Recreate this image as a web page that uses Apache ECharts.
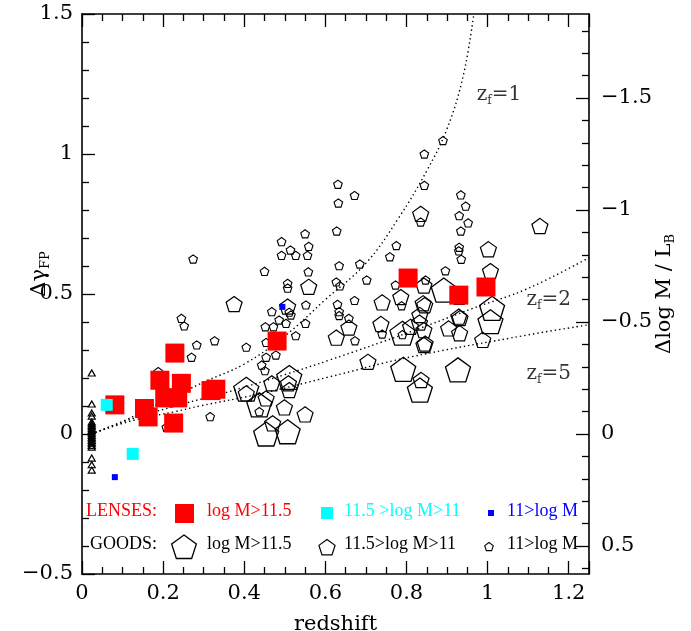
<!DOCTYPE html>
<html><head><meta charset="utf-8">
<script src="https://cdn.jsdelivr.net/npm/echarts@6/dist/echarts.min.js"></script>
<style>html,body{margin:0;padding:0;background:#fff}#c{width:691px;height:631px}</style>
</head><body><div id="c"></div>
<script>
// ---- data (redshift, delta gamma_FP) ----
const comaTriangles = [
  [0.024,0.218],[0.024,0.107],[0.024,0.075],[0.024,0.064],
  [0.024,0.043],[0.024,0.037],[0.024,0.031],[0.024,0.025],[0.024,0.019],[0.024,0.013],
  [0.024,0.007],[0.024,0.001],[0.024,-0.005],[0.024,-0.011],[0.024,-0.017],[0.024,-0.023],
  [0.024,-0.029],[0.024,-0.035],[0.024,-0.041],[0.024,-0.047],
  [0.024,-0.086],[0.024,-0.110],[0.024,-0.129]
];
const lensHigh = [
  [0.081,0.104],[0.154,0.091],[0.163,0.061],[0.192,0.192],[0.204,0.129],[0.236,0.129],
  [0.226,0.039],[0.229,0.289],[0.245,0.181],[0.318,0.155],[0.330,0.160],
  [0.481,0.332],[0.804,0.557],[0.929,0.496],[0.996,0.525]
];
const lensMid = [[0.061,0.104],[0.125,-0.071]];
const lensLow = [[0.081,-0.154],[0.494,0.454]];
const goodsHigh = [
  [0.405,0.160],[0.437,0.104],[0.511,0.202],[0.454,0.000],[0.507,0.008],
  [0.892,0.514],[1.011,0.449],[1.007,0.401],[0.790,0.360],[0.792,0.231],
  [0.833,0.157],[0.927,0.229]
];
const goodsMid = [
  [0.559,0.526],[0.375,0.464],[0.507,0.455],[0.740,0.470],[0.658,0.380],[0.627,0.344],
  [0.737,0.393],[0.786,0.489],[0.835,0.786],[1.129,0.743],[1.002,0.660],[1.007,0.582],
  [0.841,0.467],[0.845,0.460],[0.930,0.490],[0.832,0.398],[0.810,0.383],[0.843,0.371],
  [0.833,0.425],[0.843,0.318],[0.846,0.323],[0.929,0.419],[0.932,0.414],[0.904,0.377],
  [0.931,0.360],[0.988,0.336],[0.705,0.258],[0.836,0.193],[0.468,0.181],[0.499,0.095],
  [0.550,0.070],[0.454,0.127],[0.405,0.145],[0.509,0.181],[0.470,0.038],[0.511,0.157],
  [0.843,0.530]
];
const goodsLow = [
  [0.631,0.892],[0.672,0.852],[0.632,0.825],[0.550,0.715],[0.628,0.725],[0.492,0.687],
  [0.559,0.670],[0.514,0.657],[0.492,0.638],[0.527,0.638],[0.556,0.638],[0.450,0.581],
  [0.558,0.579],[0.634,0.601],[0.685,0.607],[0.702,0.550],[0.507,0.538],[0.507,0.521],
  [0.627,0.543],[0.636,0.529],[0.672,0.477],[0.552,0.461],[0.630,0.463],[0.634,0.437],
  [0.634,0.423],[0.468,0.437],[0.511,0.435],[0.515,0.425],[0.452,0.383],[0.472,0.383],
  [0.486,0.407],[0.503,0.395],[0.551,0.395],[0.527,0.351],[0.658,0.413],[0.673,0.333],
  [0.740,0.357],[0.759,0.633],[0.775,0.673],[0.773,0.532],[0.405,0.310],[0.454,0.327],
  [0.890,1.048],[0.844,1.000],[0.844,0.888],[0.934,0.854],[0.946,0.814],[0.930,0.780],
  [0.952,0.754],[0.934,0.725],[0.930,0.667],[0.929,0.654],[0.935,0.624],[0.896,0.583],
  [0.847,0.550],[0.835,0.757],[0.327,0.333],[0.478,0.282],[0.454,0.274],[0.443,0.246],
  [0.451,0.226],[0.316,0.062],[0.437,0.080],[0.274,0.625],[0.245,0.413],[0.252,0.386],
  [0.283,0.318],[0.270,0.274],[0.208,0.024],[0.188,0.223],[0.788,0.458],[0.790,0.355]
];
// model tracks for formation redshifts
const trackZf1 = [[0.023,0],[0.1,0.045],[0.2,0.115],[0.3,0.185],[0.4,0.25],[0.5,0.35],[0.6,0.48],[0.7,0.61],[0.78,0.77],[0.85,0.94],[0.9,1.09],[0.94,1.28],[0.966,1.5]];
const trackZf2 = [[0.023,0],[0.125,0.055],[0.25,0.108],[0.35,0.146],[0.5,0.212],[0.61,0.264],[0.8,0.36],[0.966,0.45],[1.1,0.52],[1.25,0.63]];
const trackZf5 = [[0.023,0],[0.125,0.048],[0.23,0.08],[0.29,0.1],[0.437,0.143],[0.61,0.204],[0.8,0.272],[1.1,0.354],[1.25,0.39]];
// right axis: Delta log M/L_B, plotted as its negative so it grows upward
const rightMajor = [-0.5,0,0.5,1,1.5];
const rightMinor = [-0.6,-0.4,-0.3,-0.2,-0.1,0.1,0.2,0.3,0.4,0.6,0.7,0.8,0.9,1.1,1.2,1.3,1.4,1.6,1.7,1.8];

const SERIF = 'DejaVu Serif';
const LSERIF = 'Liberation Serif';
const minus = v => String(v).replace('-', '\u2212');
const negLabel = v => { const n = -v; return n === 0 ? '0' : minus(n); };
const PENT = 'path://M0,-1L0.951,-0.309L0.588,0.809L-0.588,0.809L-0.951,-0.309Z';

function pentPts(cx, cy, r){
  const p=[];
  for(let i=0;i<5;i++){const a=(-90+72*i)*Math.PI/180;p.push([cx+r*Math.cos(a),cy+r*Math.sin(a)]);}
  return p;
}
const rich = {
  z:{fontFamily:SERIF,fontSize:20,color:'#000',lineHeight:24,verticalAlign:'middle'},
  s:{fontFamily:SERIF,fontSize:12,color:'#000',lineHeight:2,verticalAlign:'bottom'}
};
const nameRich = {
  z:{fontFamily:SERIF,fontSize:21,color:'#000',lineHeight:24,verticalAlign:'middle'},
  s:{fontFamily:SERIF,fontSize:13,color:'#000',lineHeight:2,verticalAlign:'bottom'}
};

const GRID = {left:82,right:102,top:14,bottom:57};
const PLOT_W = 691 - GRID.left - GRID.right;
const chart = echarts.init(document.getElementById('c'));
const tickStyle = {color:'#000',width:1.3};
const baseX = {
  type:'value',min:0,max:1.25,interval:0.2,
  axisLine:{show:true,onZero:false,lineStyle:{color:'#000',width:1.6}},
  axisTick:{show:true,inside:true,length:13,lineStyle:tickStyle},
  minorTick:{show:true,splitNumber:4,length:7,lineStyle:tickStyle},
  splitLine:{show:false},minorSplitLine:{show:false}
};
// tick-only axes drawn on the right edge (left-type axis shifted across, ticks pointing into the plot)
const rightTicks = (vals, len) => ({
  type:'value',min:-0.625,max:1.875,position:'left',offset:-PLOT_W,
  axisLine:{show:false},splitLine:{show:false},axisLabel:{show:false},
  axisTick:{show:true,inside:false,length:len,lineStyle:tickStyle,customValues:vals}
});
const lab = (text, x, y, color) => ({type:'text',left:x,top:y-11,style:{text,fill:color,font:'18px "'+LSERIF+'"'}});
const solid = c => ({color:c,opacity:1});
const hollow = w => ({color:'rgba(0,0,0,0)',borderColor:'#000',borderWidth:w,opacity:1});

chart.setOption({
  animation:false,
  backgroundColor:'#fff',
  grid:Object.assign({containLabel:false,outerBoundsMode:'none'},GRID),
  xAxis:[
    Object.assign({},baseX,{position:'bottom',
      axisLabel:{show:true,color:'#000',fontFamily:SERIF,fontSize:21,margin:9,showMaxLabel:false,formatter:v=>minus(v)},
      name:'redshift',nameLocation:'middle',nameGap:40,
      nameTextStyle:{color:'#000',fontFamily:SERIF,fontSize:21}}),
    Object.assign({},baseX,{position:'top',axisLabel:{show:false}})
  ],
  yAxis:[
    {type:'value',min:-0.5,max:1.5,interval:0.5,position:'left',
     axisLine:{show:true,onZero:false,lineStyle:{color:'#000',width:1.6}},
     axisTick:{show:true,inside:true,length:13,lineStyle:tickStyle},
     minorTick:{show:true,splitNumber:5,length:7,lineStyle:tickStyle},
     splitLine:{show:false},minorSplitLine:{show:false},
     axisLabel:{color:'#000',fontFamily:SERIF,fontSize:21,margin:9,formatter:v=>minus(v)},
     name:'{z|\u0394\u03B3}{s|FP}',nameLocation:'middle',nameGap:30,nameRotate:90,nameMoveOverlap:false,
     nameTextStyle:{rich:nameRich,padding:[0,0,0,40]}},
    {type:'value',min:-0.625,max:1.875,position:'right',
     axisLine:{show:true,onZero:false,lineStyle:{color:'#000',width:1.6}},
     axisTick:{show:false},splitLine:{show:false},
     axisLabel:{show:true,color:'#000',fontFamily:SERIF,fontSize:21,margin:12,customValues:rightMajor,formatter:negLabel},
     name:'{z|\u0394log M / L}{s|B}',nameLocation:'middle',nameGap:64,nameRotate:90,nameMoveOverlap:false,
     nameTextStyle:{rich:nameRich}},
    rightTicks(rightMajor,13),
    rightTicks(rightMinor,7)
  ],
  series:[
    {name:'zf1',type:'line',data:trackZf1,smooth:0.4,symbol:'none',lineStyle:{color:'#000',width:1.4,type:[1.4,3],opacity:1},z:1,silent:true},
    {name:'zf2',type:'line',data:trackZf2,smooth:0.4,symbol:'none',lineStyle:{color:'#000',width:1.4,type:[1.4,3],opacity:1},z:1,silent:true},
    {name:'zf5',type:'line',data:trackZf5,smooth:0.4,symbol:'none',lineStyle:{color:'#000',width:1.4,type:[1.4,3],opacity:1},z:1,silent:true},
    {name:'GOODS high',type:'scatter',data:goodsHigh,symbol:PENT,symbolSize:[25,24],itemStyle:hollow(1.3),z:2},
    {name:'GOODS mid',type:'scatter',data:goodsMid,symbol:PENT,symbolSize:[16,15.2],itemStyle:hollow(1.2),z:2},
    {name:'GOODS low',type:'scatter',data:goodsLow,symbol:PENT,symbolSize:[8.6,8.2],itemStyle:hollow(1.1),z:2},
    {name:'Coma',type:'scatter',data:comaTriangles,symbol:'triangle',symbolSize:[7,6],itemStyle:hollow(1.2),z:2},
    {name:'Lens high',type:'scatter',data:lensHigh,symbol:'rect',symbolSize:19,itemStyle:solid('#ff0000'),z:3},
    {name:'Lens mid',type:'scatter',data:lensMid,symbol:'rect',symbolSize:12,itemStyle:solid('#00ffff'),z:4},
    {name:'Lens low',type:'scatter',data:lensLow,symbol:'rect',symbolSize:6,itemStyle:solid('#0000ff'),z:5},
    {name:'labels',type:'scatter',symbolSize:0,silent:true,z:6,
     label:{show:true,position:'right',distance:0,rich:rich},
     data:[
       {value:[0.973,1.21],label:{formatter:'{z|z}{s|f}{z|=1}'}},
       {value:[1.096,0.479],label:{formatter:'{z|z}{s|f}{z|=2}'}},
       {value:[1.096,0.214],label:{formatter:'{z|z}{s|f}{z|=5}'}}
     ]}
  ],
  graphic:[
    lab('LENSES:',86,513,'#ff0000'),
    {type:'rect',shape:{x:175,y:504,width:19,height:19},style:{fill:'#ff0000'}},
    lab('log M>11.5',207,513,'#ff0000'),
    {type:'rect',shape:{x:321,y:507,width:12,height:12},style:{fill:'#00ffff'}},
    lab('11.5 >log M>11',344,513,'#00ffff'),
    {type:'rect',shape:{x:488,y:510,width:6,height:6},style:{fill:'#0000ff'}},
    lab('11>log M',507,513,'#0000ff'),
    lab('GOODS:',90,546,'#000'),
    {type:'polygon',shape:{points:pentPts(184,548,13)},style:{fill:'none',stroke:'#000',lineWidth:1.3}},
    lab('log M>11.5',207,546,'#000'),
    {type:'polygon',shape:{points:pentPts(327,548,8.5)},style:{fill:'none',stroke:'#000',lineWidth:1.2}},
    lab('11.5>log M>11',344,546,'#000'),
    {type:'polygon',shape:{points:pentPts(489,547,4.5)},style:{fill:'none',stroke:'#000',lineWidth:1.1}},
    lab('11>log M',507,546,'#000')
  ]
});
</script></body></html>
